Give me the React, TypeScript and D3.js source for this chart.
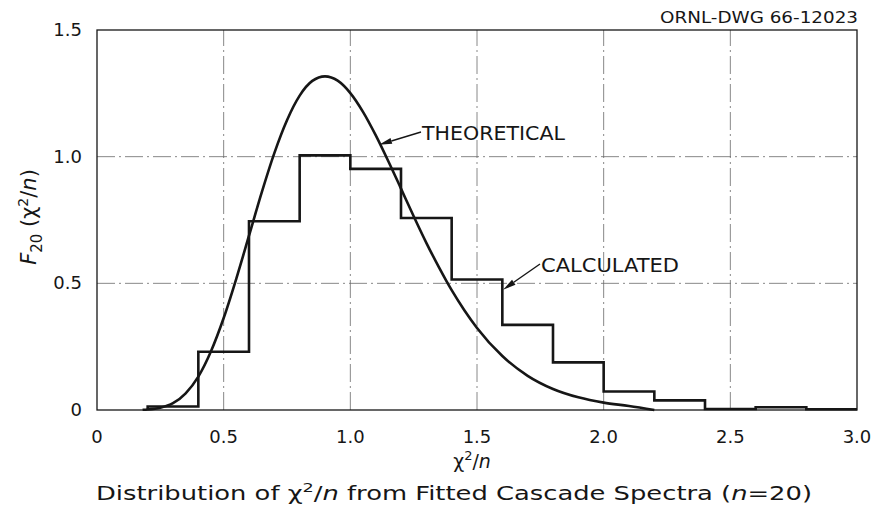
import React from "react";
import * as d3 from "d3";

// histogram of calculated chi2/n (bins of 0.2 from 0.2 to 3.0)
const binEdges = [0.2, 0.4, 0.6, 0.8, 1.0, 1.2, 1.4, 1.6, 1.8, 2.0, 2.2, 2.4, 2.6, 2.8, 3.0];
const calculated = [0.014, 0.23, 0.745, 1.005, 0.952, 0.758, 0.515, 0.336, 0.188, 0.073, 0.038, 0.004, 0.011, 0.003];

// theoretical curve
const theoX = [0.18, 0.2, 0.25, 0.3, 0.35, 0.4, 0.45, 0.5, 0.55, 0.6, 0.65, 0.7, 0.75, 0.8, 0.85, 0.9, 0.95, 1.0, 1.05, 1.1, 1.15, 1.2, 1.25, 1.3, 1.35, 1.4, 1.45, 1.5, 1.6, 1.7, 1.8, 1.9, 2.0, 2.1, 2.2];
const theoY = [0.0008, 0.002, 0.009, 0.027, 0.066, 0.132, 0.232, 0.363, 0.519, 0.688, 0.858, 1.014, 1.144, 1.241, 1.299, 1.317, 1.3, 1.251, 1.177, 1.085, 0.982, 0.874, 0.765, 0.66, 0.563, 0.473, 0.394, 0.324, 0.213, 0.135, 0.083, 0.05, 0.029, 0.016, 0.0];

const xTicks = [0, 0.5, 1.0, 1.5, 2.0, 2.5, 3.0];
const xTickLabels = ["0", "0.5", "1.0", "1.5", "2.0", "2.5", "3.0"];
const yTicks = [0, 0.5, 1.0, 1.5];
const yTickLabels = ["0", "0.5", "1.0", "1.5"];

const W = 876;
const H = 516;
const FONT = "'DejaVu Sans', sans-serif";
const INK = "#161616";

function Arrow({ x1, y1, x2, y2 }: { x1: number; y1: number; x2: number; y2: number }) {
  // line from (x1,y1) to tip (x2,y2) with a narrow filled head
  const ang = Math.atan2(y2 - y1, x2 - x1);
  const len = 13;
  const half = 3;
  const bx = x2 - len * Math.cos(ang);
  const by = y2 - len * Math.sin(ang);
  const px = -Math.sin(ang) * half;
  const py = Math.cos(ang) * half;
  return (
    <g>
      <line x1={x1} y1={y1} x2={bx} y2={by} stroke={INK} strokeWidth={1.4} />
      <polygon points={`${x2},${y2} ${bx + px},${by + py} ${bx - px},${by - py}`} fill={INK} />
    </g>
  );
}

export default function App() {
  const x = d3.scaleLinear().domain([0, 3]).range([97, 857]);
  const y = d3.scaleLinear().domain([0, 1.5]).range([410, 30]);

  // step outline for histogram
  const histPts: [number, number][] = [[binEdges[0], 0]];
  calculated.forEach((v, i) => {
    histPts.push([binEdges[i], v]);
    histPts.push([binEdges[i + 1], v]);
  });
  const histPath = d3.line<[number, number]>().x(d => x(d[0])).y(d => y(d[1]))(histPts) || "";

  const theoPts = theoX.map((v, i) => [v, theoY[i]] as [number, number]);
  const theoPath = d3
    .line<[number, number]>()
    .x(d => x(d[0]))
    .y(d => y(d[1]))
    .curve(d3.curveMonotoneX)(theoPts) || "";

  const grid = "18,4,2,4";

  return (
    <div style={{ position: "absolute", left: 0, top: 0 }}>
      <svg width={W} height={H} style={{ display: "block", background: "#fff" }} fontFamily={FONT}>
        {/* grid */}
        {xTicks.slice(1, -1).map(t => (
          <line key={"gx" + t} x1={x(t)} x2={x(t)} y1={y(0)} y2={y(1.5)} stroke="#6a6a6a" strokeWidth={0.8} strokeDasharray={grid} />
        ))}
        {yTicks.slice(1, -1).map(t => (
          <line key={"gy" + t} x1={x(0)} x2={x(3)} y1={y(t)} y2={y(t)} stroke="#6a6a6a" strokeWidth={0.8} strokeDasharray={grid} />
        ))}

        {/* frame */}
        <rect x={x(0)} y={y(1.5)} width={x(3) - x(0)} height={y(0) - y(1.5)} fill="none" stroke={INK} strokeWidth={1.3} />

        {/* data */}
        <path d={theoPath} fill="none" stroke={INK} strokeWidth={2.6} />
        <path d={histPath} fill="none" stroke={INK} strokeWidth={2.6} />

        {/* tick labels */}
        {xTicks.map((t, i) => (
          <text key={"xl" + t} x={x(t)} y={443} textAnchor="middle" fontSize={18} fill={INK}>
            {xTickLabels[i]}
          </text>
        ))}
        {yTicks.map((t, i) => (
          <text key={"yl" + t} x={82} y={y(t) + 6} textAnchor="end" fontSize={18} fill={INK}>
            {yTickLabels[i]}
          </text>
        ))}

        {/* axis titles */}
        <text x={472} y={468} textAnchor="middle" fontSize={19} fill={INK}>
          χ<tspan dy={-8} fontSize={13}>2</tspan>
          <tspan dy={8}>/</tspan>
          <tspan fontStyle="italic">n</tspan>
        </text>
        <text transform="translate(36,217) rotate(-90)" textAnchor="middle" fontSize={21} fill={INK}>
          <tspan fontStyle="italic">F</tspan>
          <tspan dy={6} fontSize={15}>20</tspan>
          <tspan dy={-6}> (χ</tspan>
          <tspan dy={-8} fontSize={14}>2</tspan>
          <tspan dy={8}>/</tspan>
          <tspan fontStyle="italic">n</tspan>
          <tspan>)</tspan>
        </text>

        {/* caption */}
        <text x={96} y={500} fontSize={19} fill={INK} textLength={716} lengthAdjust="spacingAndGlyphs">
          Distribution of χ<tspan dy={-8} fontSize={13}>2</tspan>
          <tspan dy={8}>/</tspan>
          <tspan fontStyle="italic">n</tspan> from Fitted Cascade Spectra (<tspan fontStyle="italic">n</tspan>=20)
        </text>

        {/* drawing number */}
        <text x={858} y={23} textAnchor="end" fontSize={15} fill={INK} textLength={198} lengthAdjust="spacingAndGlyphs">
          ORNL-DWG 66-12023
        </text>

        {/* annotations */}
        <text x={422} y={140} fontSize={19} fill={INK} textLength={143} lengthAdjust="spacingAndGlyphs">
          THEORETICAL
        </text>
        <Arrow x1={421} y1={132} x2={x(1.113)} y2={y(1.047)} />
        <text x={541} y={272} fontSize={19} fill={INK} textLength={138} lengthAdjust="spacingAndGlyphs">
          CALCULATED
        </text>
        <Arrow x1={540} y1={264} x2={x(1.603)} y2={y(0.475)} />
      </svg>
    </div>
  );
}
